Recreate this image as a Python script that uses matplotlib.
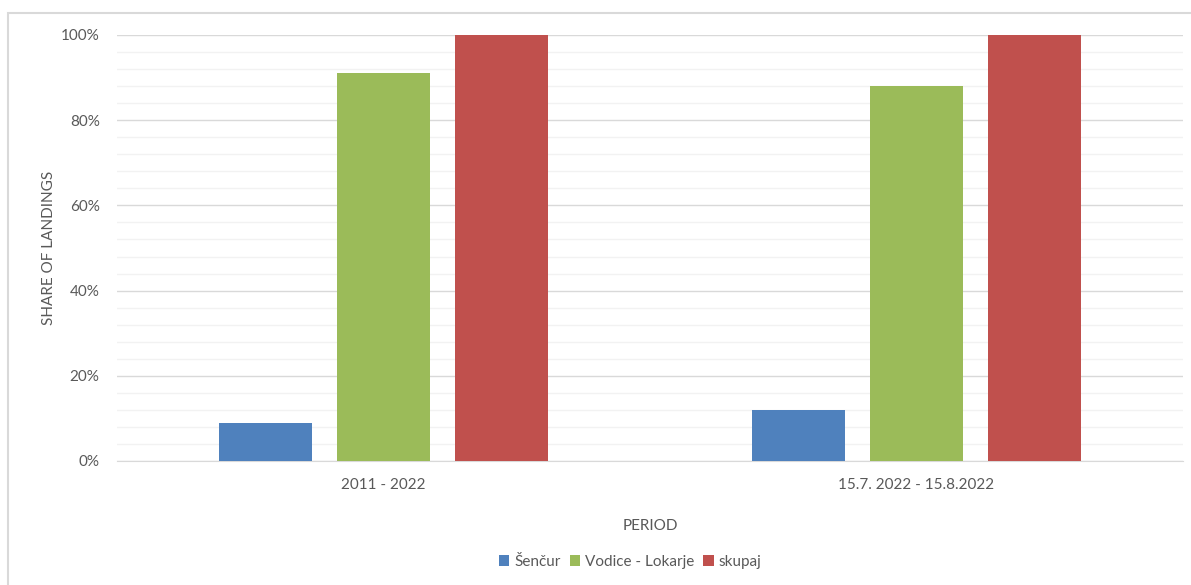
import matplotlib
matplotlib.use('Agg')
import matplotlib.pyplot as plt
from matplotlib.patches import Rectangle
from matplotlib.ticker import MultipleLocator, PercentFormatter
import numpy as np

# data
periods = ['2011 - 2022', '15.7. 2022 - 15.8.2022']
series = ['Šenčur', 'Vodice - Lokarje', 'skupaj']
sencur = [0.09, 0.12]
vodice = [0.91, 0.88]
skupaj = [1.00, 1.00]

colors = ['#4F81BD', '#9BBB59', '#C0504D']
txt = '#595959'

plt.rcParams['font.family'] = ['Lato', 'DejaVu Sans']

fig = plt.figure(figsize=(11.91, 5.85), dpi=100)
ax = fig.add_axes([117/1191, 1-461/585, (1183-117)/1191, (461-35)/585])

# chart border like the excel frame
fig.patches.append(Rectangle((8/1191, -0.1), 1.2, 1-13/585+0.1, transform=fig.transFigure,
                             fill=False, edgecolor='#d9d9d9', linewidth=1.5))

x = np.arange(len(periods))
w = 0.1745
off = 0.2214
for i, (vals, name) in enumerate(zip([sencur, vodice, skupaj], series)):
    ax.bar(x + (i-1)*off, vals, width=w, color=colors[i], label=name, zorder=3)

ax.set_xlim(-0.5, 1.5)
ax.set_ylim(0, 1)
ax.yaxis.set_major_locator(MultipleLocator(0.2))
ax.yaxis.set_minor_locator(MultipleLocator(0.04))
ax.yaxis.set_major_formatter(PercentFormatter(1.0, decimals=0))
ax.grid(axis='y', which='major', color='#d9d9d9', linewidth=1, zorder=0)
ax.grid(axis='y', which='minor', color='#f2f2f2', linewidth=1, zorder=0)
ax.set_axisbelow(True)
for s in ['top', 'right', 'left']:
    ax.spines[s].set_visible(False)
ax.spines['bottom'].set_color('#d9d9d9')
ax.tick_params(axis='both', which='both', length=0, colors=txt, labelsize=11)
ax.tick_params(axis='y', pad=12.5)
ax.tick_params(axis='x', pad=12)
ax.set_xticks(x)
ax.set_xticklabels(periods)

ax.set_ylabel('SHARE OF LANDINGS', color=txt, fontsize=11, labelpad=3.5)
ax.set_xlabel('PERIOD', color=txt, fontsize=11, labelpad=19.5)

leg = fig.legend(loc='center', bbox_to_anchor=(0.529, 1-562/585), ncol=3, frameon=False,
                 handlelength=0.7, handleheight=0.7, handletextpad=0.3, columnspacing=0.6,
                 fontsize=11)
for t in leg.get_texts():
    t.set_color(txt)

fig.savefig('out.png', dpi=100)
